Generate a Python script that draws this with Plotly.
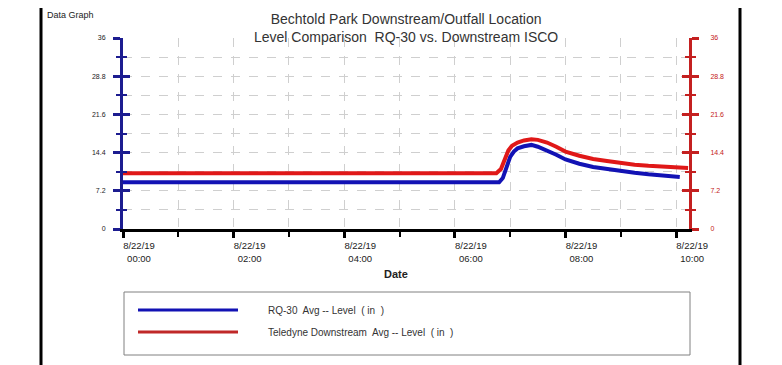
import plotly.graph_objects as go

DAY = "2019-08-22 "
blue_name = "RQ-30  Avg -- Level  ( in  )"
red_name = "Teledyne Downstream  Avg -- Level  ( in  )"

blue_times = ["00:00", "00:30", "01:00", "01:30", "02:00", "02:30", "03:00", "03:30", "04:00",
              "04:30", "05:00", "05:30", "06:00", "06:30", "06:48", "06:52", "06:56", "07:00",
              "07:04", "07:08", "07:15", "07:23", "07:30", "07:40", "07:50", "08:00", "08:15",
              "08:30", "08:45", "09:00", "09:15", "09:30", "09:45", "10:00", "10:04"]
blue_vals = [8.8, 8.8, 8.8, 8.9, 8.8, 8.8, 8.9, 8.8, 8.8,
             8.8, 8.8, 8.9, 8.8, 8.8, 8.8, 9.6, 11.4, 13.6,
             14.6, 15.2, 15.6, 15.85, 15.5, 14.8, 14.0, 13.1, 12.3,
             11.7, 11.3, 10.9, 10.6, 10.3, 10.1, 9.9, 9.8]

red_times = ["00:00", "00:30", "01:00", "01:30", "02:00", "02:30", "03:00", "03:30", "04:00",
             "04:30", "05:00", "05:30", "06:00", "06:30", "06:45", "06:50", "06:54", "06:58",
             "07:02", "07:08", "07:15", "07:23", "07:30", "07:40", "07:50", "08:00", "08:15",
             "08:30", "08:45", "09:00", "09:15", "09:30", "09:45", "10:00", "10:13"]
red_vals = [10.5, 10.5, 10.5, 10.5, 10.5, 10.5, 10.5, 10.5, 10.5,
            10.5, 10.5, 10.5, 10.5, 10.5, 10.5, 11.3, 13.2, 14.8,
            15.7, 16.3, 16.7, 16.9, 16.8, 16.3, 15.5, 14.6, 13.8,
            13.2, 12.8, 12.4, 12.1, 11.9, 11.7, 11.6, 11.5]

y_ticks = [0, 7.2, 14.4, 21.6, 28.8, 36]
y_ticktext = ["0", "7.2", "14.4", "21.6", "28.8", "36"]
x_ticks = ["00:00", "02:00", "04:00", "06:00", "08:00", "10:00"]
x_ticktext = ["8/22/19<br>00:00", "8/22/19<br>02:00", "8/22/19<br>04:00",
              "8/22/19<br>06:00", "8/22/19<br>08:00", "8/22/19<br>10:00"]

BLUE = "#1212b4"
RED = "#e01818"
LAXIS = "#1c1c90"
RAXIS = "#c42020"
GRID = "#cfcfcf"
FONT = "Liberation Sans, Arial, sans-serif"

# page body has an 8px margin, so the figure sits at (8, 8) in the window
OFF = 8
W, H = 782 - OFF, 365 - OFF
L, T = 123 - OFF, 38 - OFF
PW, PH = 566, 191
R, B = W - L - PW, H - T - PH


def px(x):
    # window pixel x -> paper
    return (x - OFF - L) / PW


def py(y):
    # window pixel y -> paper
    return (T + PH - (y - OFF)) / PH


fig = go.Figure()
fig.add_trace(go.Scatter(x=[DAY + t for t in red_times], y=red_vals, mode="lines",
                         line=dict(color=RED, width=4), name=red_name, yaxis="y2"))
fig.add_trace(go.Scatter(x=[DAY + t for t in blue_times], y=blue_vals, mode="lines",
                         line=dict(color=BLUE, width=4), name=blue_name, yaxis="y"))

grid_common = dict(showgrid=True, gridcolor=GRID, griddash="dash", gridwidth=1)

fig.update_layout(
    width=W, height=H,
    margin=dict(l=L, r=R, t=T, b=B),
    paper_bgcolor="white", plot_bgcolor="white",
    showlegend=False,
    font=dict(family=FONT, color="#222222"),
    xaxis=dict(type="date",
               range=[DAY + "00:00", DAY + "10:14"],
               showline=True, linecolor="black", linewidth=3,
               tickvals=[DAY + t for t in x_ticks], ticktext=x_ticktext,
               ticks="outside", ticklen=6, tickwidth=3, tickcolor="black",
               tickfont=dict(size=9.5, color="#222222"),
               ticklabelshift=16,
               minor=dict(dtick=3600000, ticks="outside", ticklen=5, tickwidth=2,
                          tickcolor="black", showgrid=True, gridcolor=GRID, griddash="dash"),
               zeroline=False,
               **grid_common),
    yaxis=dict(range=[0, 36], tickvals=y_ticks, ticktext=y_ticktext,
               showline=True, linecolor=LAXIS, linewidth=3,
               ticks="outside", ticklen=7, tickwidth=3, tickcolor=LAXIS,
               tickfont=dict(size=7, color="#222222"), ticklabelstandoff=6,
               minor=dict(dtick=3.6, tick0=0, ticks="outside", ticklen=4, tickwidth=2,
                          tickcolor=LAXIS, showgrid=True, gridcolor=GRID, griddash="dash"),
               zeroline=False, **grid_common),
    yaxis2=dict(range=[0, 36], overlaying="y", side="right", anchor="x",
                tickvals=y_ticks, ticktext=y_ticktext,
                showline=True, linecolor=RAXIS, linewidth=3,
                ticks="outside", ticklen=7, tickwidth=3, tickcolor=RAXIS,
                tickfont=dict(size=7, color=RAXIS), ticklabelstandoff=10,
                minor=dict(dtick=3.6, tick0=0, ticks="outside", ticklen=4, tickwidth=2,
                           tickcolor=RAXIS),
                showgrid=False, zeroline=False),
    yaxis3=dict(range=[0, 36], overlaying="y", side="left", anchor="x",
                tickvals=y_ticks, showticklabels=False,
                ticks="inside", ticklen=7, tickwidth=3, tickcolor=LAXIS,
                minor=dict(dtick=3.6, tick0=0, ticks="inside", ticklen=4, tickwidth=2,
                           tickcolor=LAXIS),
                showgrid=False, zeroline=False, showline=False),
    yaxis4=dict(range=[0, 36], overlaying="y", side="right", anchor="x",
                tickvals=y_ticks, showticklabels=False,
                ticks="inside", ticklen=7, tickwidth=3, tickcolor=RAXIS,
                minor=dict(dtick=3.6, tick0=0, ticks="inside", ticklen=4, tickwidth=2,
                           tickcolor=RAXIS),
                showgrid=False, zeroline=False, showline=False),
)

# invisible traces to activate the helper axes (crossing ticks)
fig.add_trace(go.Scatter(x=[DAY + "00:00"], y=[None], yaxis="y3", showlegend=False, hoverinfo="skip"))
fig.add_trace(go.Scatter(x=[DAY + "00:00"], y=[None], yaxis="y4", showlegend=False, hoverinfo="skip"))

shapes = []
shapes.append(dict(type="line", xref="paper", yref="paper", x0=px(41), x1=px(41), y0=py(OFF), y1=py(365),
                   line=dict(color="black", width=3)))
shapes.append(dict(type="line", xref="paper", yref="paper", x0=px(740), x1=px(740), y0=py(OFF), y1=py(365),
                   line=dict(color="black", width=3)))
shapes.append(dict(type="rect", xref="paper", yref="paper", x0=px(124), x1=px(690), y0=py(292), y1=py(355),
                   line=dict(color="#808080", width=1), fillcolor="rgba(0,0,0,0)"))
shapes.append(dict(type="line", xref="paper", yref="paper", x0=px(138), x1=px(238), y0=py(310), y1=py(310),
                   line=dict(color=BLUE, width=3)))
shapes.append(dict(type="line", xref="paper", yref="paper", x0=px(138), x1=px(238), y0=py(332), y1=py(332),
                   line=dict(color="#c02828", width=3)))
fig.update_layout(shapes=shapes)

anns = [
    dict(text="Bechtold Park Downstream/Outfall Location<br>Level Comparison  RQ-30 vs. Downstream ISCO",
         xref="paper", yref="paper", x=px(406), y=py(9), xanchor="center", yanchor="top",
         showarrow=False, align="center", font=dict(size=14, color="#333333", family=FONT)),
    dict(text="Data Graph", xref="paper", yref="paper", x=px(45), y=py(OFF), xanchor="left", yanchor="top",
         showarrow=False, font=dict(size=9, color="#222222", family=FONT)),
    dict(text="<b>Date</b>", xref="paper", yref="paper", x=px(396), y=py(274), xanchor="center",
         yanchor="middle", showarrow=False, font=dict(size=11, color="#222222", family=FONT)),
    dict(text=blue_name, xref="paper", yref="paper", x=px(266), y=py(310), xanchor="left", yanchor="middle",
         showarrow=False, font=dict(size=10, color="#333333", family=FONT)),
    dict(text=red_name, xref="paper", yref="paper", x=px(266), y=py(332), xanchor="left", yanchor="middle",
         showarrow=False, font=dict(size=10, color="#333333", family=FONT)),
]
fig.update_layout(annotations=anns)

fig.write_html("out.html")
